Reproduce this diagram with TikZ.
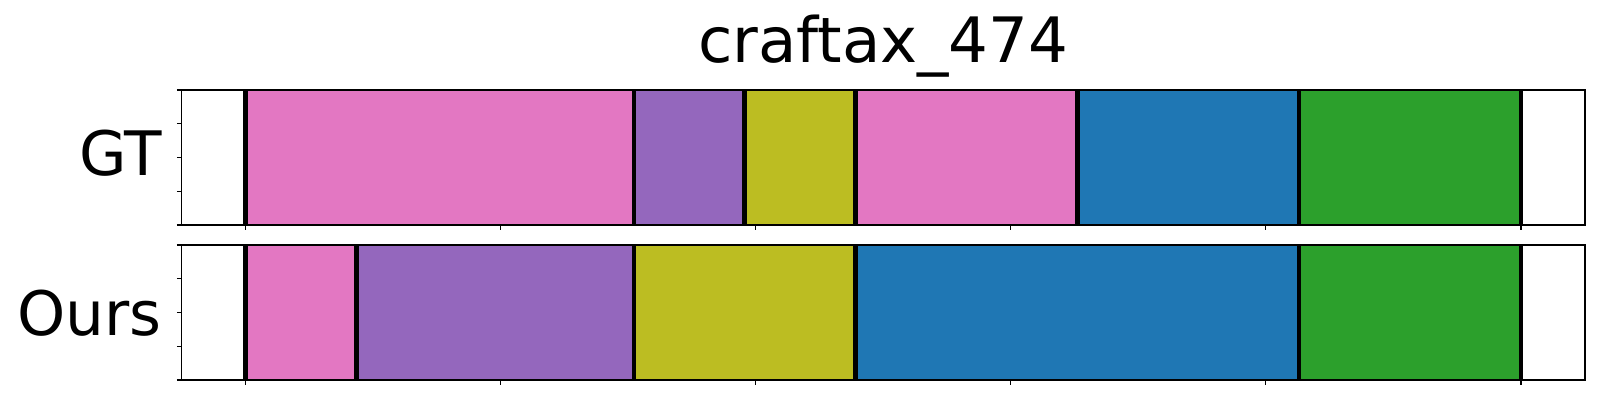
\documentclass[tikz,border=0pt]{standalone}
\usepackage{fontspec}
\setmainfont{DejaVu Sans}
\usepackage{xcolor}
\usepackage{tikz}

\definecolor{tabpink}{HTML}{E377C2}
\definecolor{tabpurple}{HTML}{9467BD}
\definecolor{tabolive}{HTML}{BCBD22}
\definecolor{tabblue}{HTML}{1F77B4}
\definecolor{tabgreen}{HTML}{2CA02C}

\tikzset{
  axframe/.style={draw=black, line width=1.1pt},
  segline/.style={black, line width=4.5pt},
  tickmark/.style={black, line width=1.1pt},
  biglabel/.style={font=\fontsize{61.3}{66}\selectfont, inner sep=0pt},
  titlelabel/.style={font=\fontsize{62.6}{66}\selectfont, inner sep=0pt},
}

\begin{document}
\begin{tikzpicture}[x=1pt,y=-1pt]
	\useasboundingbox (0,0) rectangle (1600,400);
	\node[titlelabel, anchor=base] (title) at (883.3,62) {craftax\_474};
	\node[biglabel, anchor=base east] (gt) at (162,175) {GT};
	\node[biglabel, anchor=base east] (ours) at (162,335) {Ours};

	% GT row
	\begin{scope}[xshift=245.7pt, x=55.448pt]
		\fill[tabpink] (0,90) rectangle (7,225);
		\fill[tabpurple] (7,90) rectangle (9,225);
		\fill[tabolive] (9,90) rectangle (11,225);
		\fill[tabpink] (11,90) rectangle (15,225);
		\fill[tabblue] (15,90) rectangle (19,225);
		\fill[tabgreen] (19,90) rectangle (23,225);
		\draw[segline] (0,90) -- (0,225) (7,90) -- (7,225) (9,90) -- (9,225)
			(11,90) -- (11,225) (15,90) -- (15,225) (19,90) -- (19,225) (23,90) -- (23,225);
	\end{scope}

	% Ours row
	\begin{scope}[xshift=245.7pt, x=55.448pt]
		\fill[tabpink] (0,245) rectangle (2,380);
		\fill[tabpurple] (2,245) rectangle (7,380);
		\fill[tabolive] (7,245) rectangle (11,380);
		\fill[tabblue] (11,245) rectangle (19,380);
		\fill[tabgreen] (19,245) rectangle (23,380);
		\draw[segline] (0,245) -- (0,380) (2,245) -- (2,380) (7,245) -- (7,380)
			(11,245) -- (11,380) (19,245) -- (19,380) (23,245) -- (23,380);
	\end{scope}

	% frames and ticks
	\draw[axframe] (181.7,90) rectangle (1585,225);
	\draw[axframe] (181.7,245) rectangle (1585,380);
	\draw[tickmark] (245.7,225) -- (245.7,229.9) (500.8,225) -- (500.8,229.9)
		(755.8,225) -- (755.8,229.9) (1010.9,225) -- (1010.9,229.9)
		(1265.9,225) -- (1265.9,229.9) (1521,225) -- (1521,229.9);
	\draw[tickmark] (245.7,380) -- (245.7,384.9) (500.8,380) -- (500.8,384.9)
		(755.8,380) -- (755.8,384.9) (1010.9,380) -- (1010.9,384.9)
		(1265.9,380) -- (1265.9,384.9) (1521,380) -- (1521,384.9);
	\draw[tickmark] (176.8,90) -- (181.7,90) (176.8,123.75) -- (181.7,123.75)
		(176.8,157.5) -- (181.7,157.5) (176.8,191.25) -- (181.7,191.25)
		(176.8,225) -- (181.7,225);
	\draw[tickmark] (176.8,245) -- (181.7,245) (176.8,278.75) -- (181.7,278.75)
		(176.8,312.5) -- (181.7,312.5) (176.8,346.25) -- (181.7,346.25)
		(176.8,380) -- (181.7,380);
\end{tikzpicture}
\end{document}
